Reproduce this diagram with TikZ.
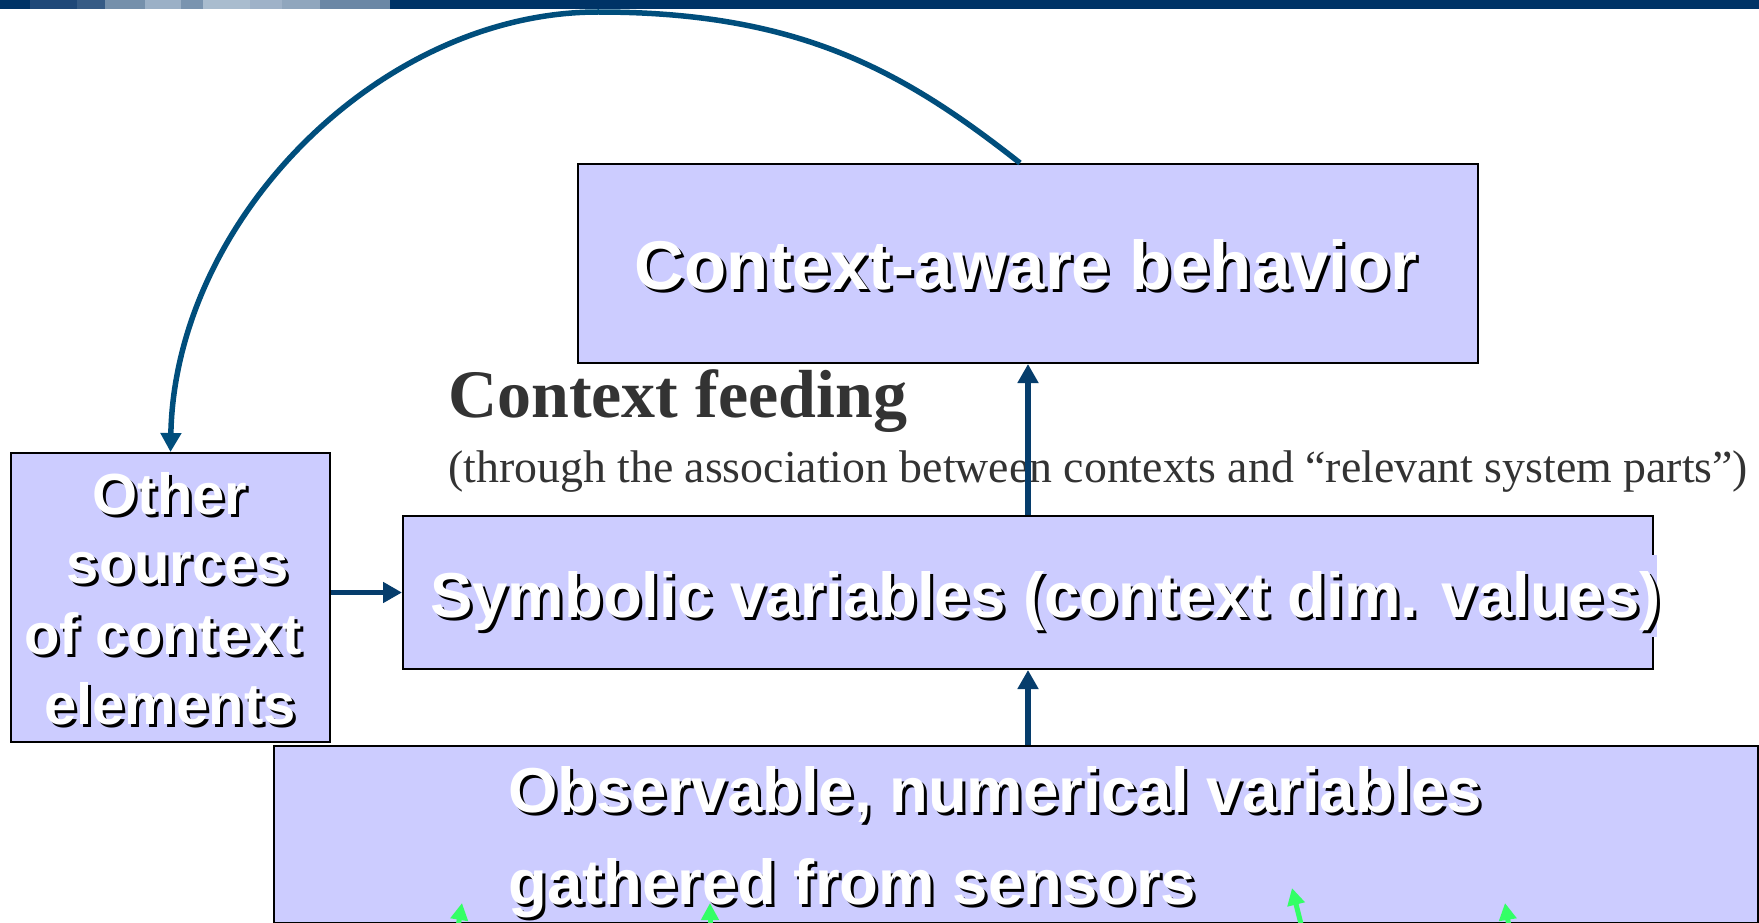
\documentclass[tikz,border=0pt]{standalone}
\usepackage{fontspec}
\setmainfont{Liberation Serif}
\setsansfont{Liberation Sans}
\usetikzlibrary{arrows.meta}
\definecolor{boxfill}{HTML}{CCCCFF}
\definecolor{navy}{HTML}{003366}
\definecolor{arrblue}{HTML}{063D6C}
\definecolor{curveblue}{HTML}{004E7C}
\definecolor{gtext}{HTML}{333333}
\definecolor{green}{HTML}{33FF66}
\definecolor{sA}{HTML}{1F4878}
\definecolor{sB}{HTML}{365B85}
\definecolor{sC}{HTML}{7590AB}
\definecolor{sD}{HTML}{9BB0C6}
\definecolor{sE}{HTML}{7A94AF}
\definecolor{sF}{HTML}{A9BCCE}
\definecolor{sG}{HTML}{9FB2C8}
\definecolor{sH}{HTML}{90A6BD}
\definecolor{sI}{HTML}{6B87A5}
\newcommand\shadtxt[6]{%
  \node[#1,text=black,anchor=#3] (#2s) at (#4+3,#5+3) {#6};
  \node[#1,text=white,anchor=#3] (#2) at (#4,#5) {#6};}
\begin{document}
\begin{tikzpicture}[x=1pt,y=-1pt,
  box/.style={draw=black, line width=2pt, fill=boxfill, inner sep=0pt, anchor=north west},
  bigsans/.style={font=\sffamily\bfseries\fontsize{69}{80}\selectfont, inner sep=0pt},
  midsans/.style={font=\sffamily\bfseries\fontsize{63.5}{74}\selectfont, inner sep=0pt},
  smallsans/.style={font=\sffamily\bfseries\fontsize{58}{68}\selectfont, inner sep=0pt},
  barr/.style={draw=arrblue, line width=5.5pt, -{Triangle[width=20pt,length=19pt]}},
  carr/.style={draw=curveblue, line width=5.5pt, -{Triangle[width=20pt,length=19pt]}},
  garr/.style={draw=green, line width=5pt, -{Triangle[width=17pt,length=17pt]}}]
\useasboundingbox (0,0) rectangle (1759,923);
\fill[white] (0,0) rectangle (1759,923);
% top bar
\fill[navy] (0,0) rectangle (30,9);
\fill[sA] (30,0) rectangle (77,9);
\fill[sB] (77,0) rectangle (105,9);
\fill[sC] (105,0) rectangle (145,9);
\fill[sD] (145,0) rectangle (181,9);
\fill[sE] (181,0) rectangle (203,9);
\fill[sF] (203,0) rectangle (250,9);
\fill[sG] (250,0) rectangle (282,9);
\fill[sH] (282,0) rectangle (320,9);
\fill[sI] (320,0) rectangle (390,9);
\fill[navy] (390,0) rectangle (1759,9);

% boxes
\node[box, minimum width=900pt, minimum height=199pt] (cab) at (577,163) {};
\node[box, minimum width=1250pt, minimum height=153pt] (sym) at (402,515) {};
\node[box, minimum width=1484pt, minimum height=177pt] (obs) at (273,745) {};
\node[box, minimum width=319pt, minimum height=289pt] (oth) at (10,452) {};
\fill[boxfill] (420,555) rectangle (1657,637);

% box texts
\shadtxt{bigsans}{cabT}{base}{1026}{289}{Context-aware behavior}
\shadtxt{midsans}{symT}{base west}{430}{617}{Symbolic variables (context dim. values)}
\shadtxt{midsans}{obsA}{base west}{508}{812}{Observable, numerical variables}
\shadtxt{midsans}{obsB}{base west}{508}{904}{gathered from sensors}
\shadtxt{smallsans}{othA}{base}{170}{514}{Other}
\shadtxt{smallsans}{othB}{base}{178}{583}{sources}
\shadtxt{smallsans}{othC}{base}{163}{654}{of context}
\shadtxt{smallsans}{othD}{base}{170}{724}{elements}

% Context feeding labels
\node[font=\bfseries\fontsize{68}{78}\selectfont, text=gtext, inner sep=0pt, anchor=base west] (cf) at (448,417) {Context feeding};
\node[font=\fontsize{45.8}{54}\selectfont, text=gtext, inner sep=0pt, anchor=base west] (cfsub) at (448,482) {(through the association between contexts and “relevant system parts”)};

% connectors
\coordinate (ax) at (1028,0);
\draw[barr] (ax |- sym.north) -- (ax |- cab.south);
\draw[barr] (ax |- obs.north) -- (ax |- sym.south);
\draw[barr] (oth.east |- sym.west) -- (sym.west);
\draw[carr] ([xshift=-8pt]cab.north) .. controls (902,70) and (798,12) .. (598,12)
   .. controls (380,12) and (175,220) .. (oth.north);

% green arrows at the bottom
\coordinate (g1s) at (455,945);
\coordinate (g1t) at (462,903);
\coordinate (g2s) at (710,945);
\coordinate (g2t) at (710,903);
\coordinate (g3s) at (1305,940);
\coordinate (g3t) at (1292,888);
\coordinate (g4s) at (1512,945);
\coordinate (g4t) at (1505,903);
\draw[garr] (g1s) -- (g1t);
\draw[garr] (g2s) -- (g2t);
\draw[garr] (g3s) -- (g3t);
\draw[garr] (g4s) -- (g4t);
\end{tikzpicture}
\end{document}
